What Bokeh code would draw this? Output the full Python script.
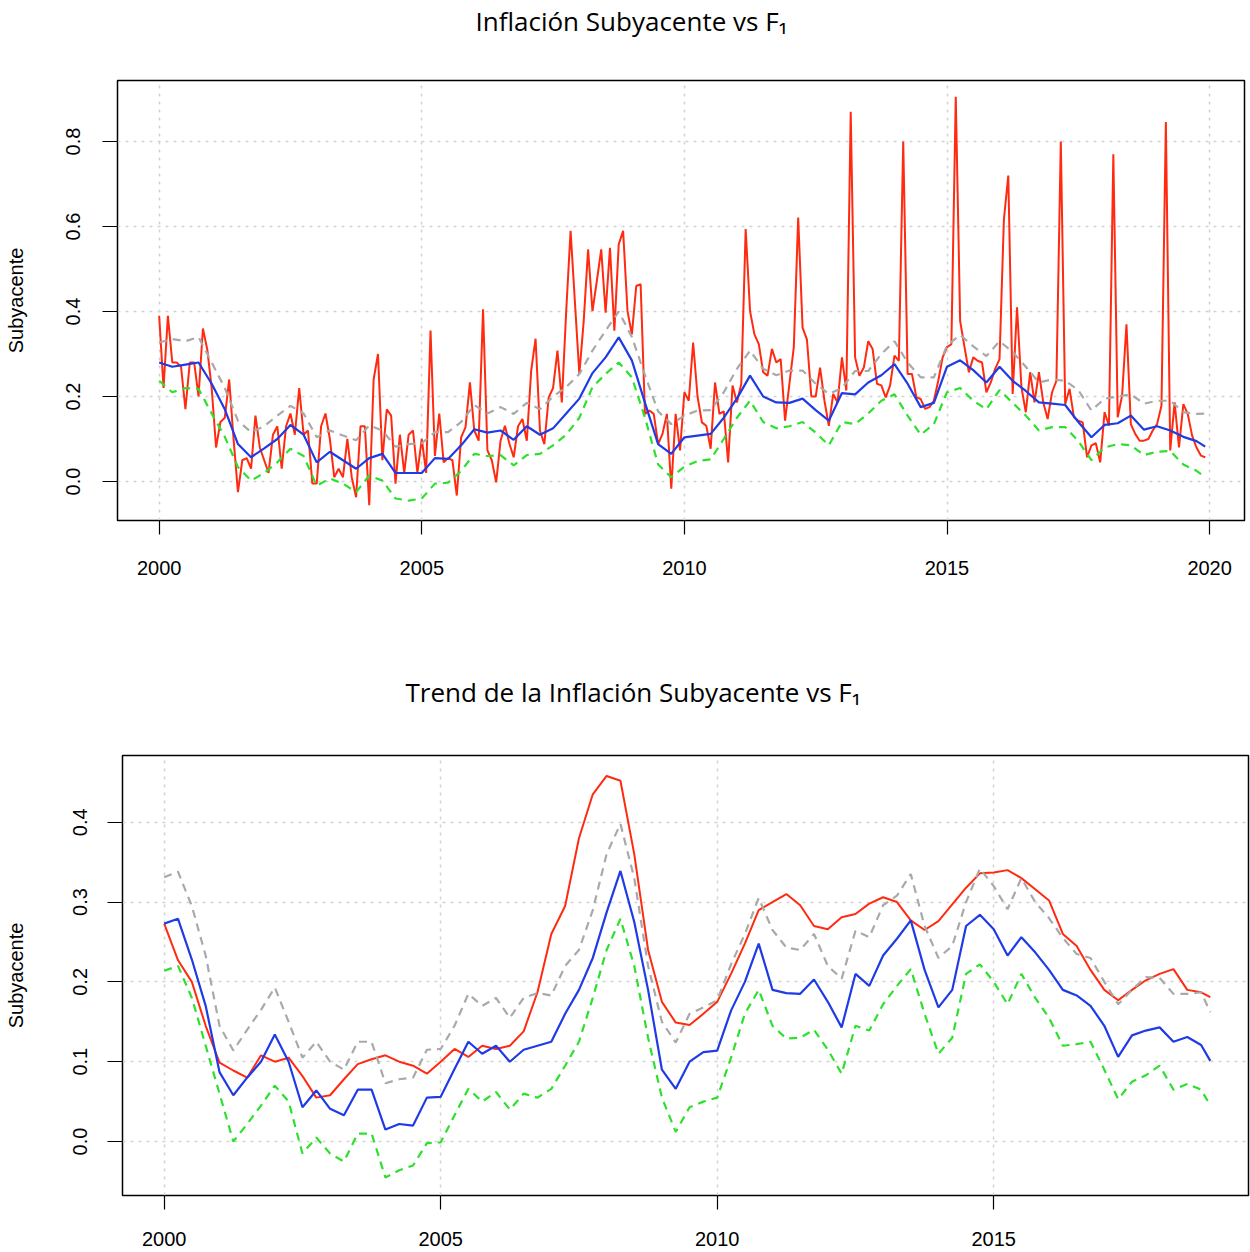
from bokeh.plotting import figure
from bokeh.layouts import column
from bokeh.models import FixedTicker, PrintfTickFormatter, Range1d, Title
from bokeh.embed import file_html
from bokeh.resources import INLINE

# ---------------- Top panel data (monthly red, quarterly smooth lines) ----------------
top_start = 2000
red_monthly = [
    # 2000
    0.39, 0.22, 0.39, 0.28, 0.28, 0.27, 0.17, 0.28, 0.28, 0.20, 0.36, 0.31,
    # 2001
    0.22, 0.08, 0.14, 0.15, 0.24, 0.10, -0.025, 0.05, 0.055, 0.03, 0.155, 0.08,
    # 2002
    0.05, 0.02, 0.11, 0.13, 0.03, 0.13, 0.16, 0.11, 0.22, 0.11, 0.12, -0.005,
    # 2003
    -0.005, 0.13, 0.16, 0.10, 0.01, 0.03, 0.01, 0.10, 0.01, -0.037, 0.13, 0.13,
    # 2004
    -0.056, 0.24, 0.30, 0.05, 0.17, 0.155, -0.005, 0.11, 0.02, 0.11, 0.12, 0.02,
    # 2005
    0.10, 0.02, 0.355, 0.06, 0.16, 0.045, 0.055, 0.05, -0.033, 0.104, 0.128, 0.233,
    # 2006
    0.12, 0.096, 0.405, 0.073, 0.05, -0.002, 0.096, 0.131, 0.09, 0.057, 0.13, 0.147,
    # 2007
    0.096, 0.261, 0.336, 0.12, 0.088, 0.198, 0.22, 0.308, 0.186, 0.401, 0.59, 0.42,
    # 2008
    0.253, 0.378, 0.546, 0.401, 0.472, 0.546, 0.397, 0.55, 0.355, 0.558, 0.59, 0.401,
    # 2009
    0.346, 0.46, 0.464, 0.159, 0.167, 0.159, 0.088, 0.112, 0.159, -0.017, 0.159, 0.073,
    # 2010
    0.21, 0.19, 0.327, 0.2, 0.139, 0.131, 0.077, 0.233, 0.159, 0.165, 0.045, 0.226,
    # 2011
    0.186, 0.23, 0.594, 0.401, 0.346, 0.323, 0.257, 0.249, 0.312, 0.28, 0.288, 0.143,
    # 2012
    0.23, 0.316, 0.621, 0.362, 0.334, 0.2, 0.2, 0.268, 0.19, 0.131, 0.206, 0.186,
    # 2013
    0.292, 0.214, 0.87, 0.292, 0.249, 0.268, 0.33, 0.312, 0.23, 0.226, 0.198, 0.226,
    # 2014
    0.296, 0.284, 0.80, 0.253, 0.253, 0.198, 0.194, 0.171, 0.175, 0.19, 0.237, 0.292,
    # 2015
    0.316, 0.323, 0.905, 0.378, 0.316, 0.257, 0.292, 0.284, 0.28, 0.21, 0.233, 0.265,
    # 2016
    0.288, 0.617, 0.72, 0.206, 0.41, 0.222, 0.163, 0.257, 0.186, 0.257, 0.186, 0.147,
    # 2017
    0.21, 0.237, 0.80, 0.182, 0.218, 0.151, 0.143, 0.139, 0.057, 0.085, 0.09, 0.045,
    # 2018
    0.163, 0.131, 0.77, 0.151, 0.202, 0.37, 0.135, 0.112, 0.096, 0.096, 0.10, 0.12,
    # 2019
    0.135, 0.179, 0.846, 0.073, 0.186, 0.08, 0.182, 0.159, 0.108, 0.08, 0.061, 0.057,
]

top_blue = [
    0.28, 0.27, 0.275, 0.28, 0.23, 0.17, 0.088, 0.057, 0.078, 0.10,
    0.133, 0.11, 0.045, 0.07, 0.05, 0.03, 0.055, 0.065, 0.02, 0.02,
    0.02, 0.055, 0.053, 0.085, 0.123, 0.115, 0.12, 0.098, 0.13, 0.11,
    0.125, 0.16, 0.195, 0.255, 0.292, 0.339, 0.285, 0.185, 0.088, 0.065,
    0.104, 0.108, 0.112, 0.15, 0.195, 0.249, 0.20, 0.186, 0.185, 0.195,
    0.168, 0.143, 0.208, 0.205, 0.233, 0.25, 0.276, 0.23, 0.175, 0.185,
    0.27, 0.285, 0.262, 0.233, 0.27, 0.237, 0.213, 0.186, 0.183, 0.18,
    0.14, 0.104, 0.133, 0.137, 0.155, 0.122, 0.13, 0.12, 0.105, 0.095,
    0.082,
]
top_grey = [
    0.327, 0.335, 0.33, 0.34, 0.28, 0.22, 0.143, 0.116, 0.13, 0.155,
    0.178, 0.16, 0.104, 0.12, 0.108, 0.097, 0.132, 0.12, 0.082, 0.088,
    0.09, 0.116, 0.116, 0.14, 0.18, 0.16, 0.175, 0.159, 0.185, 0.17,
    0.2, 0.222, 0.253, 0.308, 0.355, 0.40, 0.34, 0.25, 0.165, 0.135,
    0.155, 0.167, 0.168, 0.21, 0.265, 0.308, 0.265, 0.25, 0.261, 0.261,
    0.23, 0.206, 0.22, 0.26, 0.26, 0.30, 0.33, 0.28, 0.245, 0.245,
    0.32, 0.345, 0.318, 0.295, 0.33, 0.305, 0.27, 0.233, 0.24, 0.237,
    0.215, 0.167, 0.195, 0.2, 0.205, 0.183, 0.19, 0.19, 0.163, 0.159,
    0.16,
]
top_green = [
    0.237, 0.21, 0.22, 0.218, 0.16, 0.105, 0.034, 0.002, 0.02, 0.045,
    0.077, 0.06, -0.01, 0.007, -0.005, -0.025, 0.014, 0.002, -0.04, -0.045,
    -0.04, -0.005, -0.003, 0.025, 0.065, 0.06, 0.062, 0.038, 0.062, 0.065,
    0.085, 0.11, 0.15, 0.222, 0.253, 0.28, 0.245, 0.15, 0.04, 0.01,
    0.035, 0.048, 0.052, 0.10, 0.15, 0.19, 0.14, 0.125, 0.13, 0.14,
    0.115, 0.085, 0.14, 0.135, 0.16, 0.19, 0.205, 0.155, 0.11, 0.135,
    0.21, 0.22, 0.19, 0.17, 0.215, 0.185, 0.155, 0.12, 0.128, 0.128,
    0.095, 0.05, 0.08, 0.088, 0.085, 0.062, 0.07, 0.072, 0.04, 0.025,
    0.01,
]
top_last_time = 2019 + 11 / 12

# ---------------- Bottom panel data (quarterly trends) ----------------
bot_red = [
    0.273, 0.227, 0.20, 0.145, 0.099, 0.089, 0.08, 0.108, 0.10, 0.105,
    0.082, 0.055, 0.058, 0.078, 0.097, 0.103, 0.108, 0.10, 0.095, 0.085,
    0.10, 0.116, 0.106, 0.12, 0.116, 0.12, 0.138, 0.187, 0.26, 0.295,
    0.38, 0.435, 0.458, 0.452, 0.36, 0.24, 0.175, 0.149, 0.146, 0.16,
    0.175, 0.21, 0.248, 0.29, 0.30, 0.31, 0.296, 0.27, 0.266, 0.281,
    0.285, 0.298, 0.306, 0.30, 0.277, 0.265, 0.276, 0.297, 0.318, 0.336,
    0.337, 0.34, 0.33, 0.316, 0.302, 0.26, 0.245, 0.215, 0.19, 0.177,
    0.19, 0.202, 0.21, 0.216, 0.19, 0.187,
    0.181,
]
bot_blue = [
    0.273, 0.279, 0.228, 0.17, 0.087, 0.058, 0.08, 0.10, 0.134, 0.10,
    0.043, 0.064, 0.041, 0.033, 0.065, 0.065, 0.015, 0.022, 0.02, 0.055,
    0.056, 0.091, 0.125, 0.11, 0.12, 0.10, 0.115, 0.12, 0.125, 0.16,
    0.19, 0.23, 0.287, 0.339, 0.275, 0.19, 0.09, 0.066, 0.10, 0.112,
    0.114, 0.164, 0.20, 0.248, 0.19, 0.186, 0.185, 0.203, 0.175, 0.143,
    0.21, 0.195, 0.233, 0.254, 0.277, 0.215, 0.168, 0.19, 0.27, 0.284,
    0.266, 0.233, 0.256, 0.237, 0.215, 0.19, 0.183, 0.17, 0.145, 0.106,
    0.133, 0.139, 0.143, 0.125, 0.131, 0.121,
    0.101,
]
bot_grey = [
    0.331, 0.338, 0.295, 0.233, 0.145, 0.114, 0.14, 0.165, 0.193, 0.15,
    0.105, 0.125, 0.10, 0.09, 0.125, 0.125, 0.073, 0.078, 0.08, 0.115,
    0.116, 0.145, 0.185, 0.17, 0.18, 0.155, 0.18, 0.186, 0.183, 0.22,
    0.24, 0.29, 0.36, 0.398, 0.33, 0.22, 0.15, 0.124, 0.16, 0.168,
    0.177, 0.222, 0.26, 0.305, 0.265, 0.243, 0.24, 0.26, 0.22, 0.204,
    0.264, 0.256, 0.296, 0.308, 0.335, 0.27, 0.23, 0.245, 0.30, 0.342,
    0.32, 0.291, 0.33, 0.30, 0.28, 0.255, 0.235, 0.23, 0.2, 0.172,
    0.19, 0.206, 0.205, 0.185, 0.185, 0.187,
    0.162,
]
bot_green = [
    0.214, 0.22, 0.18, 0.12, 0.06, 0.0, 0.022, 0.045, 0.07, 0.05,
    -0.015, 0.005, -0.015, -0.025, 0.01, 0.01, -0.045, -0.036, -0.03, -0.002,
    -0.001, 0.033, 0.066, 0.05, 0.062, 0.04, 0.06, 0.055, 0.066, 0.095,
    0.125, 0.18, 0.24, 0.279, 0.22, 0.13, 0.055, 0.012, 0.043, 0.05,
    0.055, 0.105, 0.16, 0.19, 0.145, 0.129, 0.13, 0.14, 0.115, 0.085,
    0.145, 0.139, 0.172, 0.195, 0.216, 0.16, 0.11, 0.13, 0.21, 0.222,
    0.20, 0.172, 0.21, 0.18, 0.155, 0.12, 0.122, 0.125, 0.09, 0.053,
    0.075, 0.083, 0.095, 0.065, 0.072, 0.065,
    0.045,
]
bot_last_time = 2018 + 11 / 12

top_x_ticks = [2000, 2005, 2010, 2015, 2020]
top_y_ticks = [0.0, 0.2, 0.4, 0.6, 0.8]
bot_x_ticks = [2000, 2005, 2010, 2015]
bot_y_ticks = [0.0, 0.1, 0.2, 0.3, 0.4]

title_top = "Inflación Subyacente vs F\u2081"
title_bot = "Trend de la Inflación Subyacente vs F\u2081"
y_label = "Subyacente"

# time axes
t_month = [top_start + i / 12 for i in range(len(red_monthly))]
t_q_top = [top_start + i / 4 for i in range(len(top_blue) - 1)] + [top_last_time]
t_q_bot = [top_start + i / 4 for i in range(len(bot_blue) - 1)] + [bot_last_time]

RED = "#ff2a10"
BLUE = "#1f3be6"
GREY = "#a9a9a9"
GREEN = "#2ee02e"
AXFONT = "Liberation Sans"


def make_fig(title, width, height, b_top, b_bottom, b_left, b_right, xr, yr, xt, yt,
             title_offset, spacer_standoff, xstand, ystand, ylab_stand, margin):
    p = figure(width=width, height=height, output_backend="svg", toolbar_location=None,
               title=None, x_range=Range1d(*xr), y_range=Range1d(*yr),
               min_border_left=b_left, min_border_right=b_right,
               min_border_top=b_top, min_border_bottom=b_bottom, margin=margin)
    p.outline_line_color = "black"
    p.outline_line_width = 1.5
    p.background_fill_color = "white"
    p.border_fill_color = "white"
    for ax in (p.xaxis[0], p.yaxis[0]):
        ax.axis_line_color = None
        ax.major_tick_line_color = "black"
        ax.major_tick_line_width = 1.2
        ax.major_tick_in = 0
        ax.minor_tick_line_color = None
        ax.major_label_text_font = AXFONT
        ax.major_label_text_font_size = "20px"
        ax.major_label_text_color = "black"
    p.xaxis.major_tick_out = 14
    p.yaxis.major_tick_out = 15
    p.xaxis.ticker = FixedTicker(ticks=xt)
    p.yaxis.ticker = FixedTicker(ticks=yt)
    p.xaxis.formatter = PrintfTickFormatter(format="%d")
    p.yaxis.formatter = PrintfTickFormatter(format="%.1f")
    p.xaxis.major_label_standoff = xstand
    p.yaxis.major_label_standoff = ystand
    p.yaxis.major_label_orientation = "vertical"
    p.yaxis.axis_label = y_label
    p.yaxis.axis_label_text_font = AXFONT
    p.yaxis.axis_label_text_font_size = "20px"
    p.yaxis.axis_label_text_font_style = "normal"
    p.yaxis.axis_label_text_color = "black"
    p.yaxis.axis_label_standoff = ylab_stand
    p.xgrid.ticker = FixedTicker(ticks=xt)
    p.ygrid.ticker = FixedTicker(ticks=yt)
    for g in (p.xgrid[0], p.ygrid[0]):
        g.grid_line_color = "#d3d3d3"
        g.grid_line_dash = "3 5"
        g.grid_line_width = 1.5
    # blank spacer panel next to the frame (white on white), then the real title above it
    p.add_layout(Title(text=".", text_font_size="10px", text_color="white",
                       standoff=spacer_standoff), "above")
    p.add_layout(Title(text=title, align="left", offset=title_offset, standoff=0,
                       text_font="Open Sans", text_font_size="26px",
                       text_font_style="normal", text_color="black"), "above")
    return p


p1 = make_fig(title_top, 1250, 600, 80, 80, 121, 1, (1999.207, 2020.664), (-0.0918, 0.9435),
              top_x_ticks, top_y_ticks, 358, 32, 26, 22, 37, (0, 0, 0, -4))
p1.line(t_month, red_monthly, line_color=RED, line_width=2)
p1.line(t_q_top, top_grey, line_color=GREY, line_width=2.2, line_dash="8 6")
p1.line(t_q_top, top_green, line_color=GREEN, line_width=2.2, line_dash="8 6")
p1.line(t_q_top, top_blue, line_color=BLUE, line_width=2.2)

p2 = make_fig(title_bot, 1249, 652, 155, 57, 121, 2, (1999.246, 2019.607), (-0.0676, 0.4836),
              bot_x_ticks, bot_y_ticks, 283, 36, 22, 20, 44, (0, 0, 0, 1))
p2.line(t_q_bot, bot_red, line_color=RED, line_width=2)
p2.line(t_q_bot, bot_grey, line_color=GREY, line_width=2.2, line_dash="8 6")
p2.line(t_q_bot, bot_green, line_color=GREEN, line_width=2.2, line_dash="8 6")
p2.line(t_q_bot, bot_blue, line_color=BLUE, line_width=2.2)

layout = column(p1, p2, spacing=0)
open("out.html", "w").write(file_html(layout, INLINE))
